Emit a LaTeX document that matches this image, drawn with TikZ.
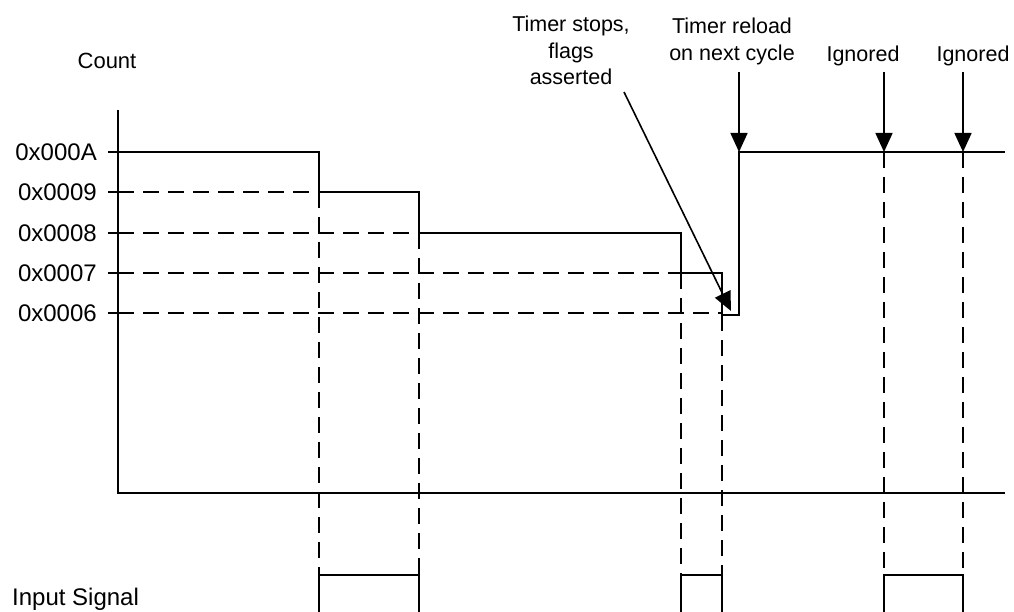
\documentclass[tikz,border=0pt]{standalone}
\usepackage{fontspec}
\setmainfont{Liberation Sans}
\usetikzlibrary{arrows.meta}
\begin{document}
\begin{tikzpicture}[x=1pt,y=-1pt,
  sig/.style={line width=1.8pt},
  guide/.style={line width=1.4pt, dash pattern=on 16pt off 9pt},
  ptr/.style={line width=1.6pt, -{Triangle[width=17pt,length=19pt]}},
  ylbl/.style={font=\fontsize{24}{28}\selectfont, anchor=east, inner sep=0pt},
  note/.style={font=\fontsize{21.5}{26.5}\selectfont, align=center, inner sep=0pt},
]
\useasboundingbox (0,0) rectangle (1014,612);

% level labels, ticks
\foreach \n/\y in {A/152,9/192,8/233,7/273,6/313} {
  \coordinate (t\n) at (108,\y);
  \coordinate (a\n) at (118,\y);
  \node[ylbl] (l\n) at (97,\y) {0x000\n};
  \draw[sig] (t\n) -- (a\n);
}

% axes
\coordinate (ytop) at (118,110);
\coordinate (orig) at (118,493);
\coordinate (xend) at (1005,493);
\draw[sig] (ytop) -- (orig) -- (xend);

% step points
\coordinate (s1a) at (319,152);  \coordinate (s1b) at (319,192);
\coordinate (s2a) at (419,192);  \coordinate (s2b) at (419,233);
\coordinate (s3a) at (681,233);  \coordinate (s3b) at (681,273);
\coordinate (s4a) at (722,273);  \coordinate (s4b) at (722,315);
\coordinate (s5a) at (739,315);  \coordinate (s5b) at (739,152);
\coordinate (g1) at (884,152);   \coordinate (g2) at (963,152);
\coordinate (rend) at (1005,152);

\draw[sig] (aA) -- (s1a) -- (s1b) -- (s2a) -- (s2b) -- (s3a) -- (s3b)
  -- (s4a) -- (s4b) -- (s5a) -- (s5b) -- (rend);

% dashed guides, horizontal
\draw[guide] (a9) -- (s1b);
\draw[guide] (a8) -- (s2b);
\draw[guide] (a7) -- (s3b);
\draw[guide] (a6) -- (722,313);

% pulse tops
\foreach \i/\x in {1/319,2/419,3/681,4/722,6/884,7/963} {
  \coordinate (p\i) at (\x,575);
  \coordinate (q\i) at (\x,612);
}
\draw[guide] (s1b) -- (p1);
\draw[guide] (s2b) -- (p2);
\draw[guide] (s3b) -- (p3);
\draw[guide] (s4b) -- (p4);
\draw[guide] (g1) -- (p6);
\draw[guide] (g2) -- (p7);

\draw[sig] (q1) -- (p1) -- (p2) -- (q2);
\draw[sig] (q3) -- (p3) -- (p4) -- (q4);
\draw[sig] (q6) -- (p6) -- (p7) -- (q7);

% labels
\node[font=\fontsize{22}{26}\selectfont, inner sep=0pt] (count) at (107,61) {Count};
\node[font=\fontsize{24}{28}\selectfont, inner sep=0pt, anchor=base west] (input) at (12,605) {Input Signal};

\node[note, anchor=north] (stop) at (571,16) {Timer stops,\\flags\\asserted};
\node[note, anchor=north] (reload) at (732,18) {Timer reload\\on next cycle};
\node[note, anchor=base] (ign1) at (863,62) {Ignored};
\node[note, anchor=base] (ign2) at (973,62) {Ignored};

% arrows
\coordinate (sa0) at (624,92);
\coordinate (sa1) at (731,311);
\draw[ptr] (sa0) -- (sa1);
\coordinate (r0) at (739,72);
\draw[ptr] (r0) -- (s5b);
\coordinate (i10) at (884,72);
\draw[ptr] (i10) -- (g1);
\coordinate (i20) at (963,72);
\draw[ptr] (i20) -- (g2);
\end{tikzpicture}
\end{document}
